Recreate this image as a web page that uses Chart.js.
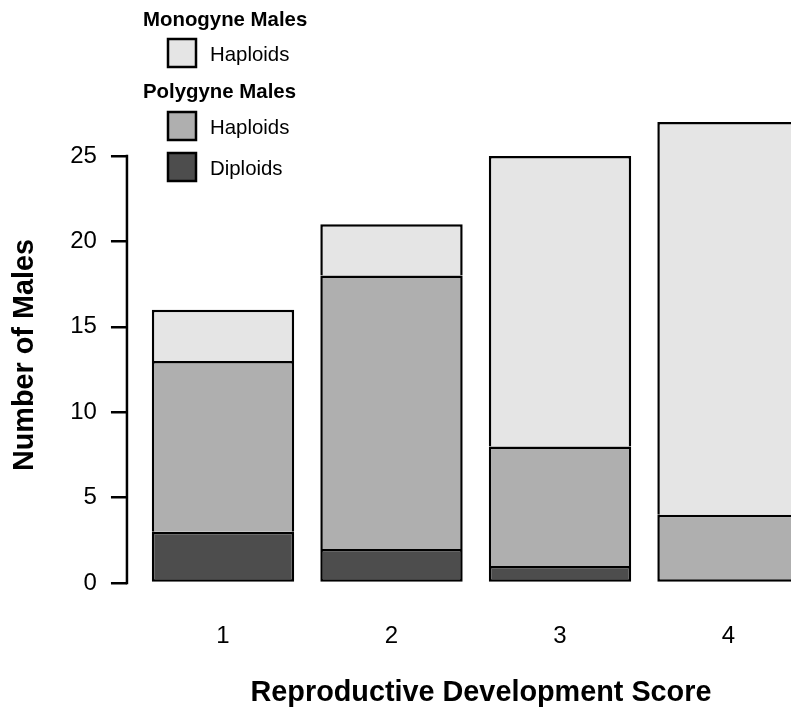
<!DOCTYPE html>
<html>
<head>
<meta charset="utf-8">
<script src="https://cdn.jsdelivr.net/npm/chart.js@4.4.0/dist/chart.umd.min.js"></script>
<style>
  html, body { margin: 0; padding: 0; background: #fff; overflow: hidden; }
  #wrap { width: 791px; height: 713px; overflow: hidden; position: relative; }
  canvas { display: block; }
</style>
</head>
<body>
<div id="wrap"><canvas id="chart" width="835" height="713"></canvas></div>
<script>
// Reproductive development score categories
const categories = ['1', '2', '3', '4'];
// Male counts per score, stacked bottom to top
const polygyneDiploids = [3, 2, 1, 0];
const polygyneHaploids = [10, 16, 7, 4];
const monogyneHaploids = [3, 3, 17, 23];
// Y axis tick values
const yTicks = [0, 5, 10, 15, 20, 25];

const FONT = '"Liberation Sans", Arial, Helvetica, sans-serif';
const COLORS = { light: '#e5e5e5', mid: '#afafaf', dark: '#4d4d4d' };
const LINE = 2.5;

const series = [
  { label: 'Diploids', values: polygyneDiploids, color: COLORS.dark },
  { label: 'Haploids', values: polygyneHaploids, color: COLORS.mid },
  { label: 'Haploids', values: monogyneHaploids, color: COLORS.light }
];

// Only the lowest visible segment of each stack gets a bottom edge,
// so the lines between segments stay single width.
function segmentBorder(ctx) {
  const d = ctx.datasetIndex, i = ctx.dataIndex;
  let lowest = true;
  for (let k = 0; k < d; k++) if (series[k].values[i] > 0) lowest = false;
  return { top: LINE, left: LINE, right: LINE, bottom: lowest ? LINE : 0 };
}

const datasets = series.map(s => ({
  label: s.label,
  data: s.values.map((v, i) => ({ x: i + 1, y: v })),
  backgroundColor: s.color,
  borderColor: '#000',
  borderWidth: segmentBorder,
  borderSkipped: false,
  barPercentage: 0.845,
  categoryPercentage: 1,
  clip: false
}));

// Y axis line running from the first to the last tick only
const axisLine = {
  id: 'axisLine',
  afterDraw(chart) {
    const { ctx, chartArea, scales } = chart;
    const y = scales.y;
    ctx.save();
    ctx.strokeStyle = '#000';
    ctx.lineWidth = LINE;
    ctx.lineCap = 'square';
    ctx.beginPath();
    ctx.moveTo(chartArea.left, y.getPixelForValue(yTicks[0]));
    ctx.lineTo(chartArea.left, y.getPixelForValue(yTicks[yTicks.length - 1]));
    ctx.stroke();
    ctx.restore();
  }
};

// Legend with group headings
const groupedLegend = {
  id: 'groupedLegend',
  afterDraw(chart) {
    const ctx = chart.ctx;
    ctx.save();
    ctx.fillStyle = '#000';
    ctx.textAlign = 'left';
    ctx.textBaseline = 'alphabetic';
    const rows = [
      { heading: 'Monogyne Males', y: 26 },
      { swatch: COLORS.light, text: 'Haploids', y: 53 },
      { heading: 'Polygyne Males', y: 98 },
      { swatch: COLORS.mid, text: 'Haploids', y: 126 },
      { swatch: COLORS.dark, text: 'Diploids', y: 167 }
    ];
    rows.forEach(r => {
      if (r.heading) {
        ctx.font = 'bold 20.4px ' + FONT;
        ctx.fillStyle = '#000';
        ctx.fillText(r.heading, 143, r.y);
      } else {
        ctx.fillStyle = r.swatch;
        ctx.fillRect(168, r.y - 14, 28, 28);
        ctx.strokeStyle = '#000';
        ctx.lineWidth = LINE;
        ctx.strokeRect(168, r.y - 14, 28, 28);
        ctx.fillStyle = '#000';
        ctx.font = '20.4px ' + FONT;
        ctx.fillText(r.text, 210, r.y + 7.5);
      }
    });
    ctx.restore();
  }
};

new Chart(document.getElementById('chart'), {
  type: 'bar',
  data: { datasets },
  options: {
    responsive: false,
    animation: false,
    devicePixelRatio: 1,
    layout: { padding: { top: 127, left: 0, right: 0, bottom: 0 } },
    plugins: { legend: { display: false }, tooltip: { enabled: false } },
    scales: {
      x: {
        type: 'linear',
        stacked: true,
        offset: false,
        min: 0.43,
        max: 4.632,
        afterBuildTicks: s => { s.ticks = categories.map((c, i) => ({ value: i + 1 })); },
        grid: { display: false, drawTicks: false, offset: false },
        border: { display: false },
        ticks: {
          color: '#000',
          font: { family: FONT, size: 24 },
          padding: 38.6,
          maxRotation: 0,
          autoSkip: false,
          callback: (v, i) => categories[i]
        },
        title: {
          display: true,
          text: 'Reproductive Development Score',
          color: '#000',
          font: { family: FONT, size: 28.8, weight: 'bold' },
          padding: { top: -13.3, bottom: 2.7 }
        }
      },
      y: {
        type: 'linear',
        stacked: true,
        min: 0,
        max: 26.7,
        afterBuildTicks: s => { s.ticks = yTicks.map(v => ({ value: v })); },
        grid: { display: true, drawOnChartArea: false, drawTicks: true, tickLength: 16, color: '#000', lineWidth: LINE },
        border: { display: false },
        ticks: {
          color: '#000',
          font: { family: FONT, size: 24 },
          padding: 14
        },
        title: {
          display: true,
          text: 'Number of Males',
          color: '#000',
          font: { family: FONT, size: 28.8, weight: 'bold' },
          padding: { top: 7.7, bottom: 14 }
        }
      }
    }
  },
  plugins: [axisLine, groupedLegend]
});
</script>
</body>
</html>
